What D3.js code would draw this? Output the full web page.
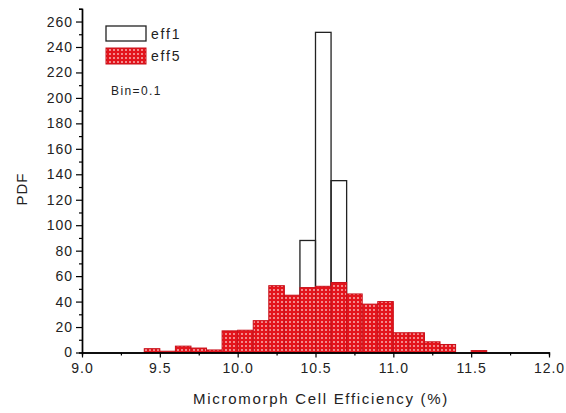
<!DOCTYPE html>
<html>
<head>
<meta charset="utf-8">
<script src="https://cdn.jsdelivr.net/npm/d3@7"></script>
<style>
  body { margin: 0; background: #fff; }
  text { font-family: "Liberation Sans", Arial, sans-serif; }
</style>
</head>
<body>
<svg id="chart" width="566" height="413"></svg>
<script>
// bin left edges (bin width 0.1)
var binStarts = [9.4, 9.5, 9.6, 9.7, 9.8, 9.9, 10.0, 10.1, 10.2, 10.3, 10.4,
                 10.5, 10.6, 10.7, 10.8, 10.9, 11.0, 11.1, 11.2, 11.3, 11.4, 11.5];
var eff5 = [3, 1, 5, 3.5, 2, 17, 17.5, 25, 52.5, 45, 51,
            52, 55, 46, 38, 40, 15.5, 15.5, 8.4, 6.3, 0, 1.5];
var eff1Starts = [10.4, 10.5, 10.6];
var eff1 = [88, 251.5, 135];
var binWidth = 0.1;

var xMajor = [9.0, 9.5, 10.0, 10.5, 11.0, 11.5, 12.0];
var xMinor = [9.25, 9.75, 10.25, 10.75, 11.25, 11.75];
var yMajor = d3.range(0, 261, 20);
var yMinor = d3.range(10, 271, 20);

var svg = d3.select("#chart");

var x = d3.scaleLinear().domain([9.0, 12.0]).range([82, 549]);
var y = d3.scaleLinear().domain([0, 270]).range([352.5, 8.8]);

// red dotted fill like the Origin pattern
var defs = svg.append("defs");
var pat = defs.append("pattern")
    .attr("id", "redDots")
    .attr("patternUnits", "userSpaceOnUse")
    .attr("width", 4)
    .attr("height", 4);
pat.append("rect").attr("width", 4).attr("height", 4).attr("fill", "#e3141c");
pat.append("rect").attr("x", 1).attr("y", 1).attr("width", 2).attr("height", 2)
    .attr("fill", "#f7b0b0");
pat.append("rect").attr("x", 1.5).attr("y", 1.5).attr("width", 1).attr("height", 1)
    .attr("fill", "#e3141c");

// eff1 outline bars
svg.append("g")
    .selectAll("rect")
    .data(eff1Starts.map(function (d, i) { return {x0: d, v: eff1[i]}; }))
    .enter()
    .append("rect")
    .attr("x", function (d) { return x(d.x0); })
    .attr("y", function (d) { return y(d.v); })
    .attr("width", function (d) { return x(d.x0 + binWidth) - x(d.x0); })
    .attr("height", function (d) { return y(0) - y(d.v); })
    .attr("fill", "none")
    .attr("stroke", "#222")
    .attr("stroke-width", 1.3);

// eff5 patterned bars
svg.append("g")
    .selectAll("rect")
    .data(binStarts.map(function (d, i) { return {x0: d, v: eff5[i]}; })
        .filter(function (d) { return d.v > 0; }))
    .enter()
    .append("rect")
    .attr("x", function (d) { return x(d.x0); })
    .attr("y", function (d) { return y(d.v); })
    .attr("width", function (d) { return x(d.x0 + binWidth) - x(d.x0); })
    .attr("height", function (d) { return y(0) - y(d.v); })
    .attr("fill", "url(#redDots)")
    .attr("stroke", "#c8101a")
    .attr("stroke-width", 1);

// axes
function styleAxis(g) {
    g.selectAll("path.domain").attr("stroke", "#000").attr("stroke-width", 1.4);
    g.selectAll(".tick line").attr("stroke", "#000").attr("stroke-width", 1.2);
    g.selectAll(".tick text")
        .attr("fill", "#222")
        .style("font-size", "14px")
        .style("letter-spacing", "1px")
        .style("font-family", "'Liberation Sans', Arial, sans-serif");
}

svg.append("g")
    .attr("transform", "translate(0," + y(0) + ")")
    .call(d3.axisBottom(x).tickValues(xMinor).tickSize(3).tickFormat(""))
    .call(styleAxis);

svg.append("g")
    .attr("transform", "translate(0," + y(0) + ")")
    .call(d3.axisBottom(x).tickValues(xMajor).tickSizeInner(5).tickSizeOuter(0)
        .tickPadding(6).tickFormat(d3.format(".1f")))
    .call(styleAxis);

svg.append("g")
    .attr("transform", "translate(" + x(9.0) + ",0)")
    .call(d3.axisLeft(y).tickValues(yMinor).tickSize(3).tickFormat(""))
    .call(styleAxis);

svg.append("g")
    .attr("transform", "translate(" + x(9.0) + ",0)")
    .call(d3.axisLeft(y).tickValues(yMajor).tickSizeInner(6).tickSizeOuter(0)
        .tickPadding(3))
    .call(styleAxis);

// axis titles
svg.append("text")
    .attr("x", 321)
    .attr("y", 404)
    .attr("text-anchor", "middle")
    .attr("fill", "#222")
    .style("font-size", "15px")
    .style("letter-spacing", "1.7px")
    .text("Micromorph Cell Efficiency (%)");

svg.append("text")
    .attr("transform", "translate(27,189) rotate(-90)")
    .attr("text-anchor", "middle")
    .attr("fill", "#222")
    .style("font-size", "15px")
    .style("letter-spacing", "1px")
    .text("PDF");

// legend
var legend = svg.append("g");
legend.append("rect")
    .attr("x", 106).attr("y", 26).attr("width", 40).attr("height", 15)
    .attr("fill", "#fff").attr("stroke", "#222").attr("stroke-width", 1.3);
legend.append("rect")
    .attr("x", 106).attr("y", 48).attr("width", 40).attr("height", 16)
    .attr("fill", "url(#redDots)").attr("stroke", "#c8101a");
legend.append("text")
    .attr("x", 151).attr("y", 39)
    .attr("fill", "#222").style("font-size", "14px")
    .style("letter-spacing", "1.8px")
    .text("eff1");
legend.append("text")
    .attr("x", 151).attr("y", 61)
    .attr("fill", "#222").style("font-size", "14px")
    .style("letter-spacing", "1.8px")
    .text("eff5");
legend.append("text")
    .attr("x", 111).attr("y", 95)
    .attr("fill", "#222").style("font-size", "12px")
    .style("letter-spacing", "1.4px")
    .text("Bin=0.1");
</script>
</body>
</html>
